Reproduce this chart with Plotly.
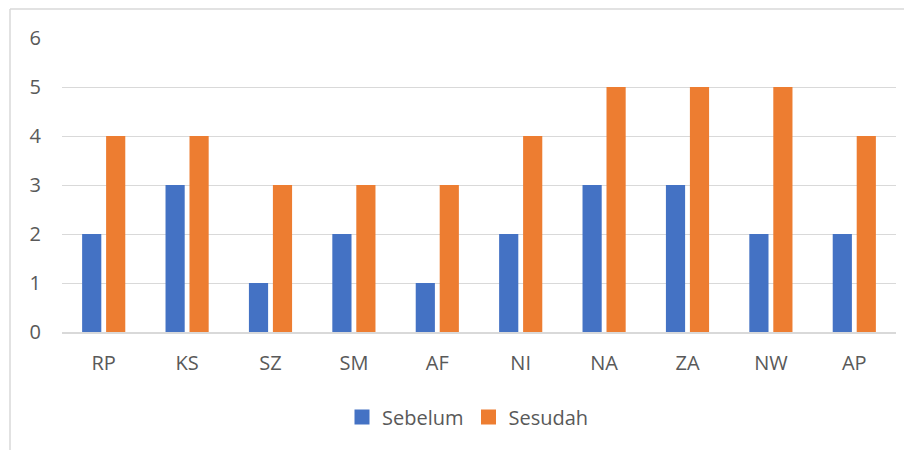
import plotly.graph_objects as go

categories = ["RP", "KS", "SZ", "SM", "AF", "NI", "NA", "ZA", "NW", "AP"]
sebelum = [2, 3, 1, 2, 1, 2, 3, 3, 2, 2]
sesudah = [4, 4, 3, 3, 3, 4, 5, 5, 5, 4]

# page has an 8px body margin; figure coordinates are shifted accordingly
OFF = 8
W, H = 912 - OFF, 450 - OFF
ml, mr, mt, mb = 62 - OFF, 16, 38 - OFF, 118
pw, ph = W - ml - mr, H - mt - mb
FONT = "Open Sans, Lato, sans-serif"
TXT = "#595959"

fig = go.Figure()
fig.add_trace(go.Bar(name="Sebelum", x=categories, y=sebelum, marker_color="#4472C4",
                     marker_line_width=0, showlegend=False))
fig.add_trace(go.Bar(name="Sesudah", x=categories, y=sesudah, marker_color="#ED7D31",
                     marker_line_width=0, showlegend=False))
for name, col in [("Sebelum", "#4472C4"), ("Sesudah", "#ED7D31")]:
    fig.add_trace(go.Scatter(name=name, x=[None], y=[None], mode="markers",
                             marker=dict(symbol="square", size=15, color=col), showlegend=True))

bx = (10 - OFF - ml) / pw
by = 1 + (mt - (9 - OFF)) / ph
fig.update_layout(
    width=W, height=H,
    margin=dict(l=ml, r=mr, t=mt, b=mb),
    paper_bgcolor="white", plot_bgcolor="white",
    barmode="group", bargap=0.425, bargroupgap=0.2,
    font=dict(family=FONT, size=20, color=TXT),
    showlegend=True,
    legend=dict(orientation="h", x=0.5 - 11 / pw, xanchor="center", y=(324 - 409) / ph,
                yanchor="middle", font=dict(size=20, color=TXT), itemwidth=30,
                itemsizing="trace"),
    shapes=[
        dict(type="line", xref="paper", yref="paper", x0=bx, x1=bx, y0=by, y1=-1,
             line=dict(color="#D9D9D9", width=1.5)),
        dict(type="line", xref="paper", yref="paper", x0=bx, x1=1.5, y0=by, y1=by,
             line=dict(color="#D9D9D9", width=1.5)),
    ],
)
fig.update_xaxes(showgrid=False, showline=True, linecolor="#D9D9D9", linewidth=1.5,
                 ticks="", ticklabelstandoff=12, tickfont=dict(size=20, color=TXT))
fig.update_yaxes(range=[0, 6], dtick=1, showgrid=True, gridcolor="#D9D9D9", gridwidth=1.3,
                 zeroline=False, showline=False, ticks="", ticklabelstandoff=20,
                 tickfont=dict(size=20, color=TXT))

fig.write_html("out.html")
